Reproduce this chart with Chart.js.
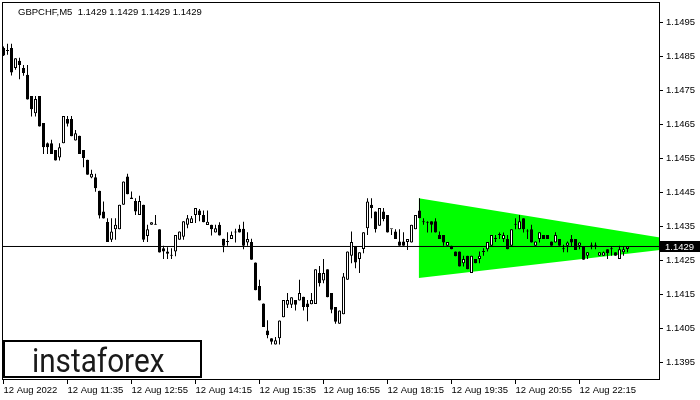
<!DOCTYPE html>
<html>
<head>
<meta charset="utf-8">
<script src="https://cdn.jsdelivr.net/npm/chart.js@4.4.1/dist/chart.umd.min.js"></script>
<style>
  html, body { margin: 0; padding: 0; background: #fff; }
  canvas { display: block; }
</style>
</head>
<body>
<canvas id="chart" width="700" height="400"></canvas>
<script>
const symbolTitle = "GBPCHF,M5  1.1429 1.1429 1.1429 1.1429";
const lastPrice = 1.1429;

// M5 candles, one per bar index
const opens = [
  1.14874, 1.14866, 1.14874, 1.14815, 1.14836, 1.14815, 1.14795, 1.14733, 1.14682, 1.14733,
  1.14653, 1.14594, 1.14594, 1.14574, 1.14552, 1.14594, 1.14665, 1.14665, 1.14602, 1.14616,
  1.14574, 1.14545, 1.14493, 1.14494, 1.14454, 1.14393, 1.14362, 1.14310, 1.14341, 1.14341,
  1.14413, 1.14496, 1.14434, 1.14424, 1.14383, 1.14413, 1.14321, 1.14354, 1.14356, 1.14341,
  1.14285, 1.14275, 1.14265, 1.14275, 1.14310, 1.14319, 1.14354, 1.14359, 1.14383, 1.14396,
  1.14383, 1.14353, 1.14354, 1.14331, 1.14354, 1.14313, 1.14303, 1.14312, 1.14331, 1.14342,
  1.14342, 1.14302, 1.14303, 1.14243, 1.14174, 1.14122, 1.14043, 1.14020, 1.14002, 1.14020,
  1.14082, 1.14119, 1.14119, 1.14133, 1.14131, 1.14142, 1.14122, 1.14120, 1.14121, 1.14212,
  1.14190, 1.14223, 1.14153, 1.14112, 1.14063, 1.14091, 1.14192, 1.14263, 1.14290, 1.14253,
  1.14283, 1.14344, 1.14413, 1.14393, 1.14351, 1.14393, 1.14383, 1.14341, 1.14334, 1.14305,
  1.14305, 1.14303, 1.14302, 1.14341, 1.14396, 1.14362, 1.14362, 1.14364, 1.14364, 1.14324,
  1.14324, 1.14292, 1.14292, 1.14275, 1.14275, 1.14241, 1.14263, 1.14212, 1.14253, 1.14253,
  1.14274, 1.14282, 1.14292, 1.14312, 1.14324, 1.14312, 1.14312, 1.14292, 1.14354, 1.14341,
  1.14373, 1.14334, 1.14341, 1.14292, 1.14312, 1.14324, 1.14324, 1.14305, 1.14302, 1.14312,
  1.14282, 1.14292, 1.14312, 1.14312, 1.14292, 1.14290, 1.14263, 1.14292, 1.14292, 1.14263,
  1.14263, 1.14282, 1.14282, 1.14273, 1.14253, 1.14273, 1.14283
];
const highs = [
  1.14878, 1.14886, 1.14886, 1.14844, 1.14845, 1.14824, 1.14824, 1.14733, 1.14733, 1.14733,
  1.14653, 1.14596, 1.14604, 1.14574, 1.14594, 1.14674, 1.14674, 1.14674, 1.14633, 1.14616,
  1.14574, 1.14545, 1.14516, 1.14504, 1.14454, 1.14422, 1.14373, 1.14373, 1.14373, 1.14413,
  1.14481, 1.14504, 1.14452, 1.14432, 1.14439, 1.14413, 1.14354, 1.14361, 1.14383, 1.14341,
  1.14292, 1.14288, 1.14285, 1.14324, 1.14334, 1.14364, 1.14383, 1.14380, 1.14403, 1.14400,
  1.14396, 1.14396, 1.14354, 1.14354, 1.14361, 1.14313, 1.14332, 1.14334, 1.14342, 1.14354,
  1.14363, 1.14332, 1.14313, 1.14243, 1.14192, 1.14122, 1.14073, 1.14020, 1.14024, 1.14072,
  1.14133, 1.14153, 1.14141, 1.14133, 1.14192, 1.14142, 1.14133, 1.14153, 1.14223, 1.14233,
  1.14253, 1.14223, 1.14153, 1.14112, 1.14102, 1.14212, 1.14275, 1.14334, 1.14290, 1.14273,
  1.14332, 1.14432, 1.14432, 1.14393, 1.14403, 1.14403, 1.14383, 1.14341, 1.14341, 1.14341,
  1.14332, 1.14312, 1.14354, 1.14383, 1.14432, 1.14373, 1.14364, 1.14364, 1.14373, 1.14334,
  1.14324, 1.14303, 1.14292, 1.14275, 1.14275, 1.14263, 1.14263, 1.14263, 1.14253, 1.14275,
  1.14285, 1.14303, 1.14324, 1.14324, 1.14331, 1.14331, 1.14324, 1.14341, 1.14373, 1.14383,
  1.14373, 1.14341, 1.14354, 1.14305, 1.14332, 1.14324, 1.14324, 1.14305, 1.14332, 1.14312,
  1.14295, 1.14305, 1.14324, 1.14312, 1.14302, 1.14290, 1.14273, 1.14302, 1.14302, 1.14273,
  1.14275, 1.14282, 1.14290, 1.14273, 1.14292, 1.14290, 1.14290
];
const lows = [
  1.14850, 1.14854, 1.14793, 1.14810, 1.14782, 1.14792, 1.14722, 1.14672, 1.14672, 1.14643,
  1.14562, 1.14562, 1.14562, 1.14543, 1.14543, 1.14594, 1.14643, 1.14614, 1.14602, 1.14562,
  1.14523, 1.14501, 1.14491, 1.14451, 1.14372, 1.14372, 1.14303, 1.14303, 1.14310, 1.14341,
  1.14413, 1.14444, 1.14430, 1.14383, 1.14383, 1.14303, 1.14303, 1.14354, 1.14354, 1.14272,
  1.14253, 1.14253, 1.14253, 1.14261, 1.14310, 1.14310, 1.14344, 1.14359, 1.14359, 1.14364,
  1.14361, 1.14353, 1.14322, 1.14331, 1.14322, 1.14273, 1.14292, 1.14312, 1.14302, 1.14331,
  1.14282, 1.14292, 1.14251, 1.14161, 1.14131, 1.14053, 1.14020, 1.14002, 1.14002, 1.14002,
  1.14082, 1.14109, 1.14109, 1.14102, 1.14131, 1.14102, 1.14070, 1.14120, 1.14121, 1.14172,
  1.14182, 1.14141, 1.14094, 1.14063, 1.14063, 1.14091, 1.14192, 1.14241, 1.14226, 1.14212,
  1.14270, 1.14324, 1.14373, 1.14331, 1.14351, 1.14364, 1.14331, 1.14324, 1.14312, 1.14292,
  1.14292, 1.14280, 1.14302, 1.14341, 1.14373, 1.14354, 1.14331, 1.14331, 1.14331, 1.14312,
  1.14292, 1.14292, 1.14282, 1.14261, 1.14231, 1.14231, 1.14223, 1.14212, 1.14241, 1.14241,
  1.14263, 1.14275, 1.14292, 1.14303, 1.14312, 1.14303, 1.14282, 1.14292, 1.14341, 1.14341,
  1.14331, 1.14312, 1.14302, 1.14292, 1.14302, 1.14312, 1.14312, 1.14292, 1.14302, 1.14292,
  1.14273, 1.14273, 1.14290, 1.14280, 1.14282, 1.14251, 1.14253, 1.14282, 1.14282, 1.14263,
  1.14263, 1.14253, 1.14263, 1.14263, 1.14253, 1.14263, 1.14273
];
const closes = [
  1.14852, 1.14865, 1.14802, 1.14844, 1.14824, 1.14800, 1.14722, 1.14694, 1.14724, 1.14643,
  1.14582, 1.14582, 1.14562, 1.14543, 1.14582, 1.14674, 1.14651, 1.14614, 1.14623, 1.14562,
  1.14550, 1.14501, 1.14504, 1.14461, 1.14381, 1.14372, 1.14303, 1.14334, 1.14354, 1.14413,
  1.14481, 1.14444, 1.14430, 1.14393, 1.14424, 1.14310, 1.14341, 1.14361, 1.14354, 1.14272,
  1.14275, 1.14269, 1.14263, 1.14324, 1.14334, 1.14364, 1.14373, 1.14373, 1.14403, 1.14383,
  1.14361, 1.14363, 1.14341, 1.14344, 1.14322, 1.14292, 1.14303, 1.14324, 1.14332, 1.14331,
  1.14292, 1.14312, 1.14251, 1.14161, 1.14131, 1.14053, 1.14029, 1.14010, 1.14014, 1.14072,
  1.14133, 1.14133, 1.14141, 1.14119, 1.14153, 1.14112, 1.14112, 1.14133, 1.14223, 1.14182,
  1.14212, 1.14141, 1.14104, 1.14069, 1.14102, 1.14202, 1.14275, 1.14303, 1.14243, 1.14273,
  1.14332, 1.14422, 1.14403, 1.14341, 1.14403, 1.14371, 1.14331, 1.14341, 1.14312, 1.14292,
  1.14292, 1.14312, 1.14354, 1.14383, 1.14373, 1.14361, 1.14360, 1.14354, 1.14331, 1.14312,
  1.14302, 1.14303, 1.14282, 1.14261, 1.14231, 1.14253, 1.14223, 1.14263, 1.14241, 1.14263,
  1.14274, 1.14303, 1.14324, 1.14312, 1.14324, 1.14324, 1.14282, 1.14341, 1.14354, 1.14364,
  1.14341, 1.14334, 1.14302, 1.14305, 1.14332, 1.14312, 1.14312, 1.14292, 1.14324, 1.14292,
  1.14282, 1.14302, 1.14302, 1.14280, 1.14302, 1.14251, 1.14273, 1.14292, 1.14292, 1.14273,
  1.14273, 1.14270, 1.14282, 1.14263, 1.14282, 1.14282, 1.14290
];

const priceTicks = [1.1395, 1.1405, 1.1415, 1.1425, 1.1435, 1.1445, 1.1455, 1.1465, 1.1475, 1.1485, 1.1495];
const timeTickBars = [0, 16, 32, 48, 64, 80, 96, 112, 128, 144];
const timeLabels = ['12 Aug 2022', '12 Aug 11:35', '12 Aug 12:55', '12 Aug 14:15', '12 Aug 15:35',
                    '12 Aug 16:55', '12 Aug 18:15', '12 Aug 19:35', '12 Aug 20:55', '12 Aug 22:15'];

// triangle pattern edges: [bar index, price]
const triangleTop = [[103.8, 1.14432], [164.3, 1.14316]];
const triangleBottom = [[103.8, 1.14197], [164.3, 1.14280]];

const FONT = '"Liberation Sans", Arial, sans-serif';

const bodies = opens.map((o, i) => ({ x: i, y: [o, closes[i]] }));
const wicks = lows.map((l, i) => ({ x: i, y: [l, highs[i]] }));
const bodyFill = opens.map((o, i) => closes[i] >= o ? '#ffffff' : '#000000');

const overlay = {
  id: 'overlay',
  afterDatasetsDraw(chart) {
    const { ctx, chartArea: a } = chart;
    ctx.save();
    ctx.strokeStyle = '#000';
    ctx.lineWidth = 1;
    ctx.strokeRect(a.left + 0.5, a.top + 0.5, a.right - a.left - 1, a.bottom - a.top - 1);
    ctx.restore();
  },
  afterDraw(chart) {
    const { ctx } = chart;
    const y = chart.scales.y.getPixelForValue(lastPrice);
    ctx.save();
    // title
    ctx.fillStyle = '#000';
    ctx.font = '9.5px ' + FONT;
    ctx.textBaseline = 'alphabetic';
    ctx.textAlign = 'left';
    ctx.fillText(symbolTitle, 18, 15);
    // current price tag
    ctx.fillRect(660, Math.round(y) - 5, 40, 11);
    ctx.fillStyle = '#fff';
    ctx.textBaseline = 'middle';
    ctx.fillText(lastPrice.toFixed(4), 665, y + 0.5);
    // watermark
    ctx.fillStyle = '#fff';
    ctx.fillRect(3, 340, 199, 38);
    ctx.strokeStyle = '#000';
    ctx.lineWidth = 2;
    ctx.strokeRect(4, 341, 197, 36);
    ctx.fillStyle = '#1a1a1a';
    ctx.font = '33px Roboto, "Open Sans", sans-serif';
    ctx.textBaseline = 'alphabetic';
    ctx.translate(32, 372);
    ctx.scale(0.9, 1);
    ctx.fillText('instaforex', 0, 0);
    ctx.restore();
  }
};

new Chart(document.getElementById('chart'), {
  type: 'bar',
  data: {
    datasets: [
      {
        label: 'body',
        data: bodies,
        order: 0,
        backgroundColor: bodyFill,
        borderColor: '#000',
        borderWidth: 1,
        borderSkipped: false,
        barThickness: 3,
        minBarLength: 1,
        inflateAmount: 0,
        grouped: false
      },
      {
        label: 'wick',
        data: wicks,
        order: 1,
        backgroundColor: '#000',
        borderWidth: 0,
        barThickness: 1,
        minBarLength: 1,
        inflateAmount: 0,
        grouped: false
      },
      {
        type: 'line',
        label: 'price',
        data: [{ x: -1, y: lastPrice }, { x: 166, y: lastPrice }],
        order: 2,
        borderColor: '#000',
        borderWidth: 1,
        pointRadius: 0
      },
      {
        type: 'line',
        label: 'triangle top',
        data: triangleTop.map(p => ({ x: p[0], y: p[1] })),
        order: 3,
        borderWidth: 0,
        pointRadius: 0,
        backgroundColor: '#00ff00',
        fill: '+1'
      },
      {
        type: 'line',
        label: 'triangle bottom',
        data: triangleBottom.map(p => ({ x: p[0], y: p[1] })),
        order: 4,
        borderWidth: 0,
        pointRadius: 0,
        fill: false
      }
    ]
  },
  options: {
    responsive: false,
    animation: false,
    devicePixelRatio: 1,
    layout: { padding: { left: 2, top: 2, right: 0, bottom: 0 } },
    plugins: { legend: { display: false }, tooltip: { enabled: false } },
    scales: {
      x: {
        type: 'linear',
        offset: false,
        min: -0.375,
        max: 164.125,
        grid: { offset: false, drawOnChartArea: false, drawTicks: true, tickLength: 4, color: '#000' },
        border: { display: false },
        afterBuildTicks: s => { s.ticks = timeTickBars.map(v => ({ value: v })); },
        afterFit: s => { s.height = 20; s.paddingLeft = 0; s.paddingRight = 0; },
        ticks: {
          autoSkip: false,
          maxRotation: 0,
          minRotation: 0,
          align: 'start',
          padding: 1,
          color: '#000',
          font: { family: FONT, size: 9.5 },
          callback: (v, i) => timeLabels[i]
        }
      },
      y: {
        position: 'right',
        min: 1.1389735,
        max: 1.1500912,
        grid: { drawOnChartArea: false, drawTicks: true, tickLength: 3, color: '#000' },
        border: { display: false },
        afterBuildTicks: s => { s.ticks = priceTicks.map(v => ({ value: v })); },
        afterFit: s => { s.width = 40; s.paddingTop = 0; s.paddingBottom = 0; },
        ticks: {
          padding: 3,
          color: '#000',
          font: { family: FONT, size: 9.5 },
          callback: v => v.toFixed(4)
        }
      }
    }
  },
  plugins: [overlay]
});
</script>
</body>
</html>
